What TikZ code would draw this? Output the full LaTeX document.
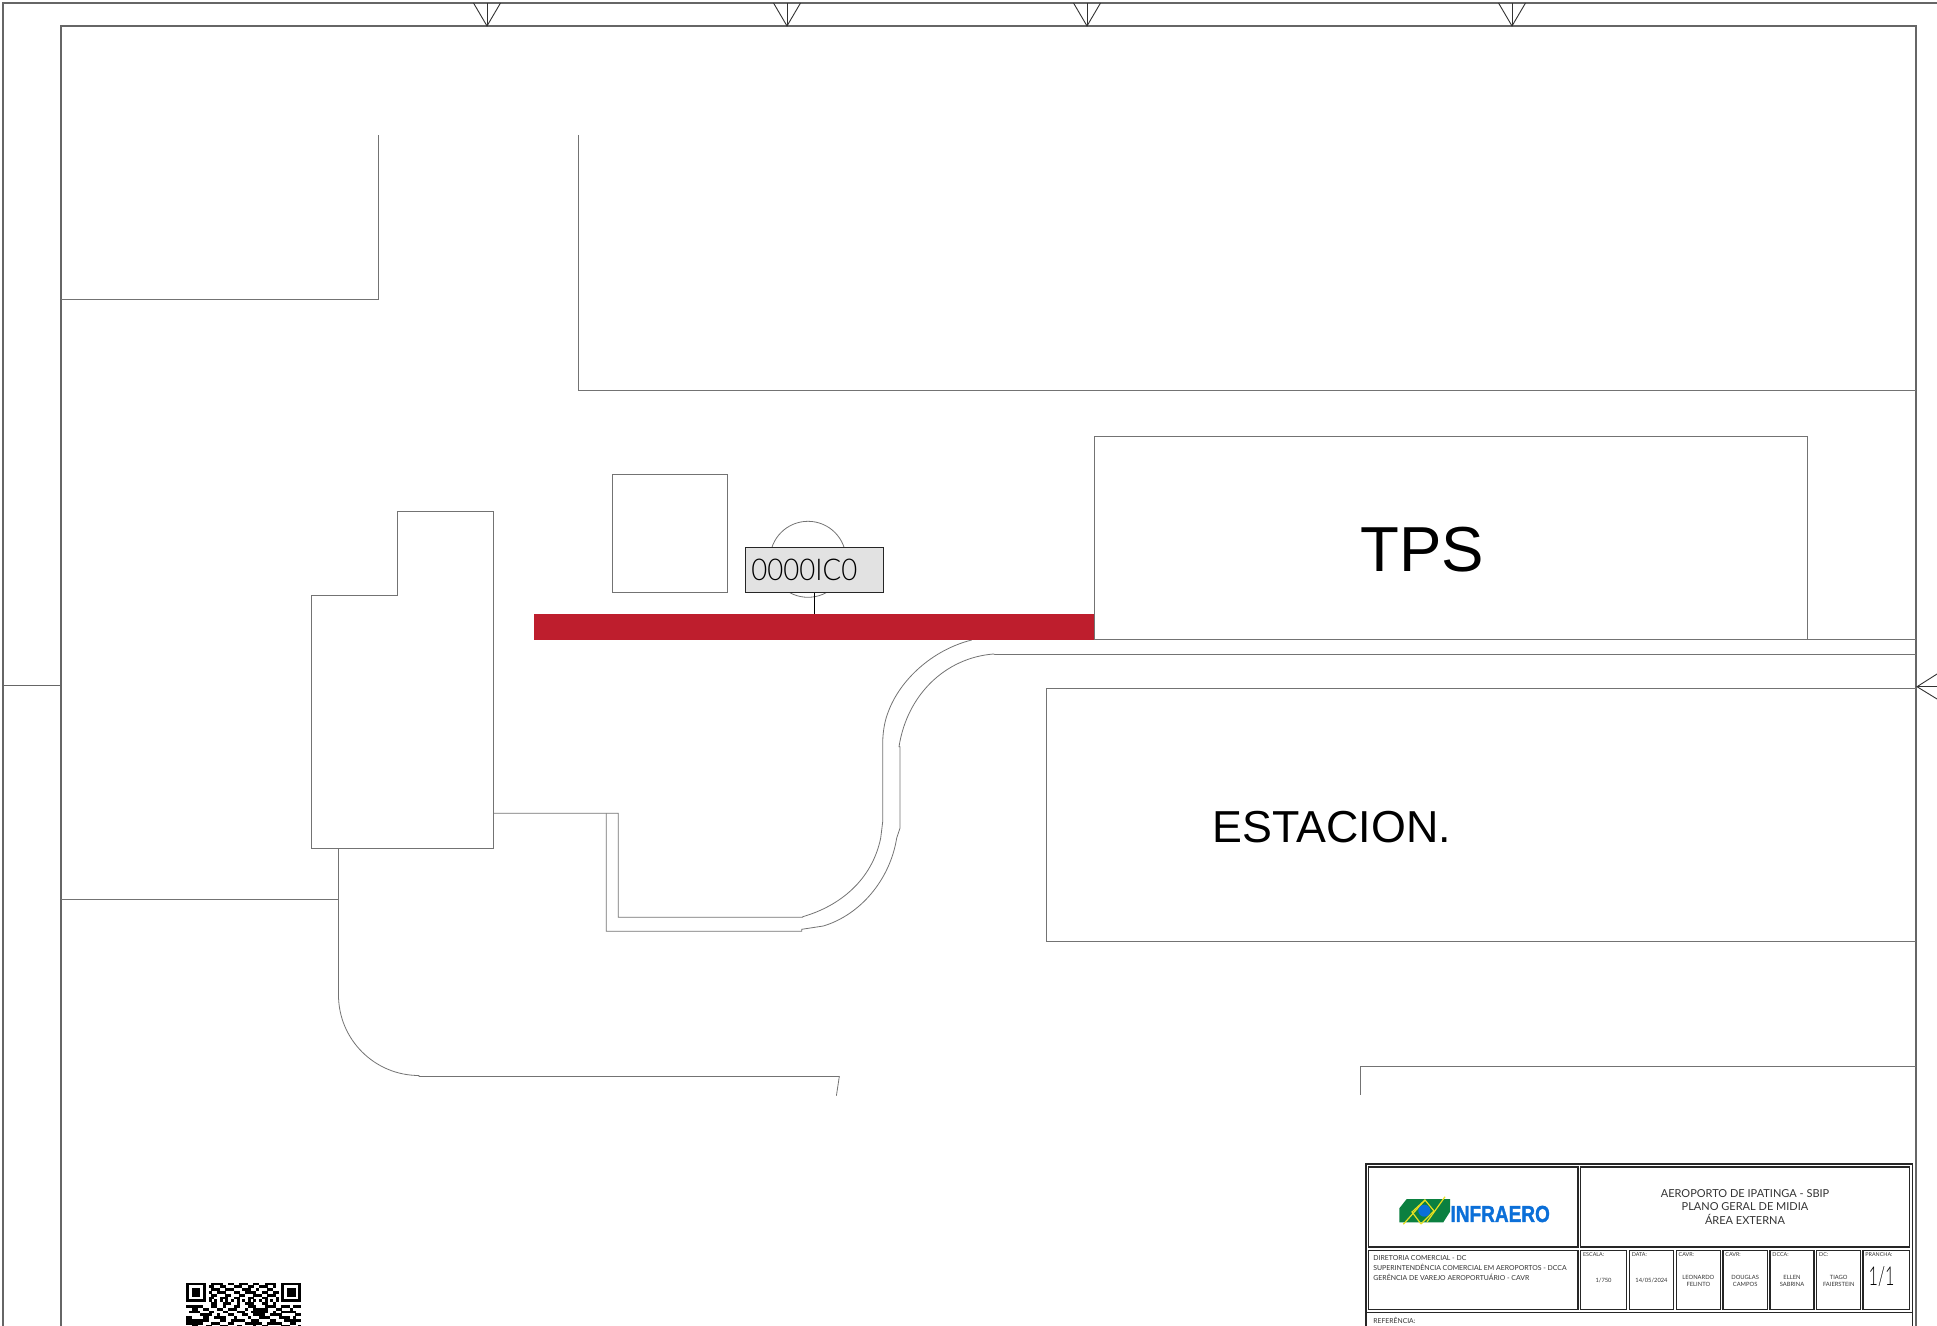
\documentclass[tikz,border=0pt]{standalone}
\usepackage{fontspec}
\setmainfont{Liberation Sans}
\newfontfamily\cadfont{Lato}[UprightFont=* Light]
\newfontfamily\smallfont{Lato}
\newfontfamily\logofont{Liberation Sans Bold}[FakeBold=1.6]
\newcommand{\cadsize}[1]{\smallfont\fontsize{#1}{#1}\selectfont}
\definecolor{barred}{HTML}{BE1E2D}
\definecolor{platefill}{HTML}{E2E2E2}
\definecolor{logogreen}{HTML}{0B8040}
\definecolor{logoblue}{HTML}{0B6FD8}
\definecolor{logoyellow}{HTML}{E8E020}
\tikzset{
  wall/.style={color=black!55,line width=.4pt},
  sheet/.style={color=black!60,line width=.6pt},
  tick/.style={color=black!80,line width=.45pt},
  cellbox/.style={color=black!85,line width=.55pt},
  celltext/.style={color=black!80,inner sep=0pt},
}
\begin{document}
\begin{tikzpicture}[x=.5pt,y=-.5pt]
   \useasboundingbox (0,0) rectangle (1937,1326);

   % folha
   \draw[sheet] (1937,3) -- (3,3) -- (3,1326);
   \draw[sheet] (61,1326) -- (61,26) -- (1916,26) -- (1916,1326);
   \draw[sheet] (3,685.6) -- (61,685.6);
   \foreach \tickx in {487,787,1087,1512}{
     \draw[tick] (\tickx-13.5,3) -- (\tickx,26) -- (\tickx+13.5,3);
     \draw[tick] (\tickx,3) -- (\tickx,26);
   }
   \draw[tick] (1937,674) -- (1917,686.7) -- (1937,699);
   \draw[tick] (1917,686.7) -- (1937,686.7);

   % contornos
   \draw[wall] (61,299) -- (378,299) -- (378,135);
   \draw[wall] (578,135) -- (578,390) -- (1916,390);
   \draw[wall] (1094,639.5) -- (1094,436.7) -- (1807,436.7) -- (1807,639.5);
   \draw[wall] (1094,639.5) -- (1916,639.5);
   \draw[wall] (1916,654.5) -- (995,654.5) -- (993.3,654) .. controls (945,658) and (907,695) .. (899,746.7)
     -- (900,746.7) -- (900,828)
     -- (896.7,838) .. controls (890,880) and (860,915) .. (823.3,926) -- (801.7,929.3)
     -- (801.7,931.3) -- (606.3,931.3) -- (606.3,813.3);
   \draw[wall] (971.7,640) .. controls (932,650) and (900,680) .. (888.3,711.7)
     .. controls (885,720) and (883,730) .. (882.7,741.7) -- (882.7,821.7) -- (880.7,838)
     .. controls (872,880) and (840,906) .. (802.7,916.7) -- (802.7,917.3)
     -- (618.3,917.3) -- (618.3,813.3) -- (493.5,813.3);
   \draw[wall] (311.3,848.3) -- (311.3,595.4) -- (397.8,595.4) -- (397.8,511.4)
     -- (493.5,511.4) -- (493.5,848.3) -- cycle;
   \draw[wall] (612.7,474.4) rectangle (727.6,592.3);
   \draw[wall] (808,559.3) circle(38);
   \draw[wall] (1916,688.3) -- (1046.3,688.3) -- (1046.3,941.3) -- (1916,941.3);
   \draw[wall] (61,899.3) -- (338.5,899.3);
   \draw[wall] (338.5,848.3) -- (338.5,995) arc(180:90:80.5) -- (419,1076.5)
     -- (839.3,1076.5) -- (836.4,1095.7);
   \draw[wall] (1360,1094.5) -- (1360,1066) -- (1916,1066);

   \node[fill=barred,inner sep=0pt,minimum width=280.2pt,minimum height=12.8pt] (redbar) at (813.9,626.8) {};
   \node[draw=black!85,line width=.5pt,fill=platefill,inner sep=0pt,minimum width=69.1pt,
     minimum height=22.85pt,text width=63.1pt,align=left,font=\cadfont\fontsize{15}{15}\selectfont] (plate) at (814.5,569.85)
     {\scalebox{.92}[1]{0000IC0}};
   \draw[color=black,line width=.5pt] (plate.south) -- (redbar.north -| plate.south);

   \node[inner sep=0pt,font=\fontsize{31.8}{31.8}\selectfont] (tps) at (1422.5,549.7) {TPS};
   \node[inner sep=0pt,font=\fontsize{22.4}{22.4}\selectfont] (estacion) at (1331.7,827) {ESTACION.};

   % codigo qr
   \foreach \qrrow/\qrcols in {
     0/{0,...,6,9,10,11,12,15,16,19,20,21,24,25,28,29,30,31,34,35,...,40},
     1/{0,6,8,9,12,13,17,18,19,22,23,26,27,28,31,34,40},
     2/{0,2,3,4,6,9,10,11,14,15,16,20,21,22,25,29,30,34,36,37,38,40},
     3/{0,2,3,4,6,8,11,12,13,17,18,21,22,23,24,27,28,31,32,34,36,37,38,40},
     4/{0,2,3,4,6,9,10,14,15,19,20,24,25,26,29,30,31,34,36,37,38,40},
     5/{0,6,8,9,12,13,14,17,18,22,23,27,28,32,34,40},
     6/{0,...,6,8,10,12,14,16,18,20,22,24,26,28,30,32,34,35,...,40},
     7/{9,10,13,14,15,18,21,22,23,27,28,31},
     8/{0,...,5,9,10,13,17,18,22,23,24,28,29,30,31,34,35,36,38,39,40},
     9/{2,3,6,7,11,12,15,16,17,21,24,25,...,28,32,33,37},
     10/{1,2,3,4,8,9,13,14,18,19,20,23,24,...,28,31,34,35,...,38},
     11/{5,6,7,8,11,15,16,20,21,24,25,26,27,30,31,32,33,39,40},
     12/{0,1,6,7,10,11,12,13,17,22,26,27,28,29,33,34,35,36,38},
     13/{0,...,7,12,13,16,17,...,20,23,24,25,30,31,35,36,...,40},
     14/{0,...,5,9,10,11,15,16,21,22,...,26,29,30,...,33,37,38},
     15/{2,3,7,8,12,13,14,18,19,24,27,28,34,35,36,40}}{
     \foreach \qrcol in \qrcols
       \fill (186.2+2.8*\qrcol,1282.5+2.8*\qrrow) rectangle ++(2.9,2.9);
   }

   % carimbo
   \draw[cellbox] (1366,1326) -- (1366,1164) -- (1912.4,1164) -- (1912.4,1326);
   \draw[cellbox] (1366,1312.7) -- (1912.4,1312.7);
   \draw[cellbox] (1368.6,1167) rectangle (1578,1247);
   \draw[cellbox] (1580.7,1167) rectangle (1909.3,1247);
   \draw[cellbox] (1368.6,1250.7) rectangle (1578,1309.3);

   \fill[logogreen] (1399.3,1208.3) -- (1406.7,1199) -- (1450,1199) -- (1450,1211.7)
     -- (1443.3,1222.3) -- (1399.3,1222.3) -- cycle;
   \draw[logoyellow,line width=.6pt] (1403.3,1224.3) -- (1425,1200) -- (1434,1211)
     -- (1421,1224);
   \draw[logoyellow,line width=.6pt] (1427,1222) -- (1445,1196.7);
   \draw[logoyellow,line width=.6pt] (1425,1200) -- (1412,1212) -- (1421,1224);
   \fill[logoblue] (1424.3,1210.7) circle(6);
   \node[inner sep=0pt,text=logoblue,font=\logofont\fontsize{11.6}{11.6}\selectfont] (infraero) at (1500.2,1214)
     {\scalebox{.82}[1]{INFRAERO}};

   \node[celltext,align=center,font=\cadsize{5.5}] (title) at (1745,1207)
     {AEROPORTO DE IPATINGA - SBIP\\[1.2pt] PLANO GERAL DE MIDIA\\[1.6pt] ÁREA EXTERNA};
   \node[celltext,align=left,anchor=north west,font=\cadsize{3.45}] (board) at (1373,1255)
     {DIRETORIA COMERCIAL - DC\\[1.5pt] SUPERINTENDÊNCIA COMERCIAL EM AEROPORTOS - DCCA\\[1.5pt] GERÊNCIA DE VAREJO AEROPORTUÁRIO - CAVR};
   \node[celltext,anchor=west,font=\cadsize{3.4}] (reference) at (1373,1320.7) {REFERÊNCIA:};

   \foreach \cellleft/\cellright/\cellhead/\cellbody [count=\cellno] in {
     1580.7/1626.4/ESCALA:/{1/750},
     1629.4/1673.6/DATA:/{14/05/2024},
     1676.3/1720.4/CAVR:/{LEONARDO\\[.6pt] FELINTO},
     1723/1767.3/CAVR:/{DOUGLAS\\[.6pt] CAMPOS},
     1770/1814/DCCA:/{ELLEN\\[.6pt] SABRINA},
     1816.8/1860.6/DC:/{TIAGO\\[.6pt] FAIERSTEIN}}{
     \draw[cellbox] (\cellleft,1250.7) rectangle (\cellright,1309.3);
     \node[celltext,anchor=west,font=\cadsize{2.7}] (cellhead\cellno) at (\cellleft+2,1254.7) {\cellhead};
     \node[celltext,align=center,font=\cadsize{2.9}] (cellbody\cellno) at ({(\cellleft+\cellright)/2},1280.7) {\cellbody};
   }
   \draw[cellbox] (1863,1250.7) rectangle (1909.3,1309.3);
   \node[celltext,anchor=west,font=\cadsize{2.7}] (sheethead) at (1865,1254.7) {PRANCHA:};
   \node[celltext,color=black,font=\cadfont\fontsize{13}{13}\selectfont] (sheetno) at (1881.5,1277) {\scalebox{.62}[1]{1/1}};

 \end{tikzpicture}
\end{document}
